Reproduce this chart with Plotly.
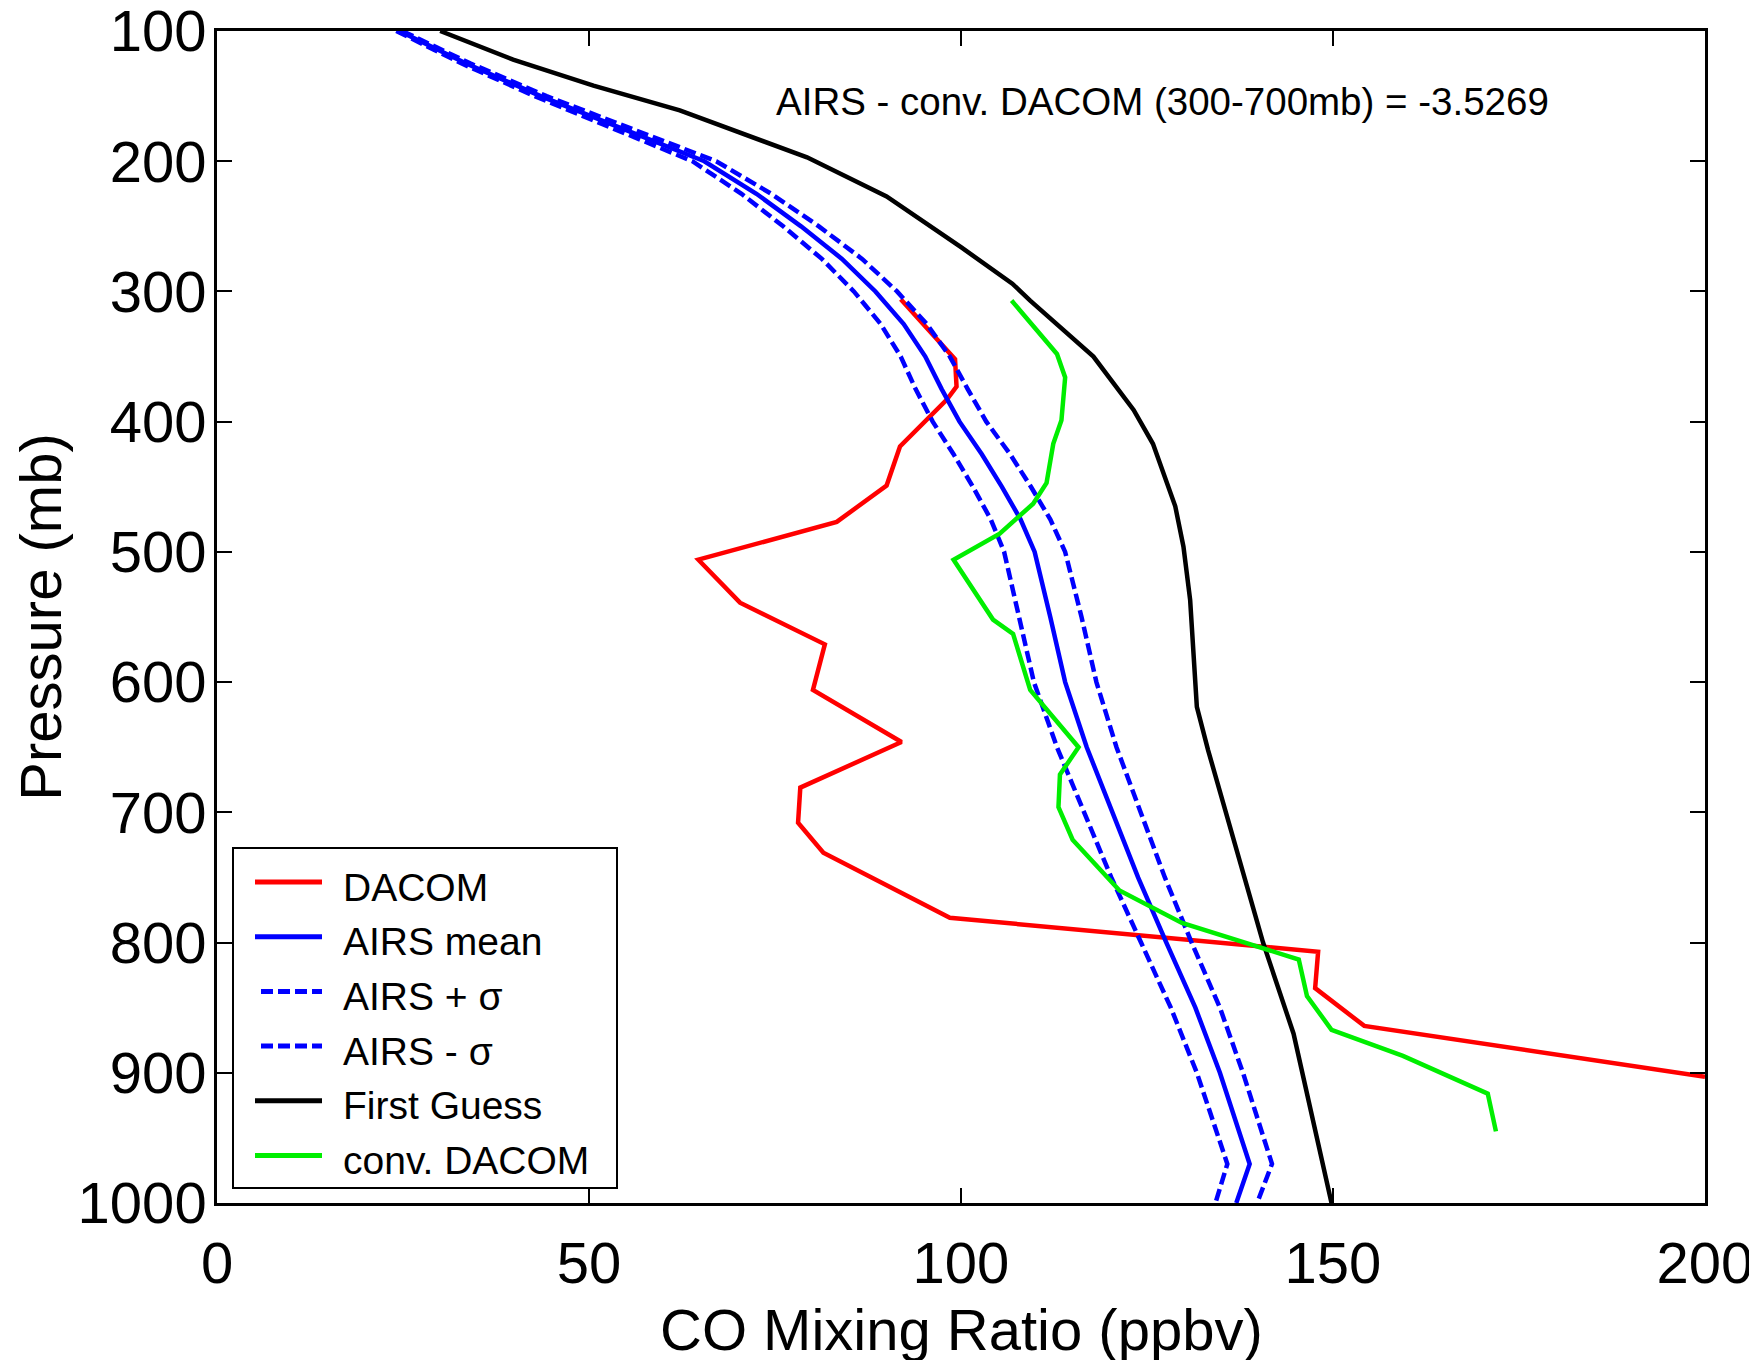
import plotly.graph_objects as go

# ---------------- data ----------------
airs_p = [100, 125, 150, 175, 200, 225, 250, 275, 300, 325, 350, 375, 400, 425, 450,
          475, 500, 550, 600, 650, 700, 750, 800, 850, 900, 950, 970, 1000]
airs_mean = [24.5, 33.5, 43.5, 54.5, 65.5, 72.5, 78.5, 84.0, 88.5, 92.3, 95.2, 97.4, 99.8,
             102.8, 105.5, 108.0, 109.9, 112.0, 114.0, 116.9, 120.3, 123.8, 127.6, 131.5,
             134.8, 137.6, 138.8, 137.0]
airs_plus = [24.9, 34.1, 44.3, 55.6, 67.1, 74.5, 80.9, 86.7, 91.4, 95.4, 98.5, 100.9, 103.4,
             106.6, 109.4, 112.0, 114.0, 116.2, 118.2, 120.9, 124.1, 127.4, 131.0, 134.8,
             137.9, 140.6, 141.8, 139.8]
airs_minus = [24.1, 32.9, 42.7, 53.4, 63.9, 70.5, 76.1, 81.3, 85.6, 89.2, 91.9, 93.9, 96.2,
              99.0, 101.6, 104.0, 105.8, 107.8, 109.8, 112.9, 116.5, 120.2, 124.2, 128.2,
              131.7, 134.6, 135.8, 134.2]

fg_p = [100, 122, 142, 161, 197, 227, 266, 294, 307, 350, 391, 417, 465, 496, 537, 575,
        619, 652, 690, 729, 800, 870, 1000]
fg_x = [30.0, 39.8, 50.6, 62.2, 79.3, 90.0, 100.0, 106.9, 109.3, 117.8, 123.2, 125.8, 128.8,
        129.9, 130.8, 131.2, 131.7, 133.2, 135.1, 136.9, 140.6, 144.7, 149.8]

dacom_p = [306, 352, 373, 383, 419, 449, 477, 506, 539, 571, 606, 646, 681, 708, 731, 781,
           807, 835, 864, 903]
dacom_x = [91.9, 99.2, 99.4, 98.1, 91.8, 90.0, 83.3, 64.7, 70.3, 81.7, 80.1, 92.0, 78.4, 78.1,
           81.5, 98.5, 148.0, 147.6, 154.2, 200.0]

conv_p = [307, 348, 366, 399, 417, 447, 463, 486, 506, 552, 563, 606, 650, 671, 696, 721,
          760, 785, 813, 841, 867, 887, 916, 945]
conv_x = [106.8, 112.9, 114.0, 113.5, 112.4, 111.5, 109.7, 105.2, 99.0, 104.3, 107.0, 109.3,
          115.8, 113.3, 113.1, 115.0, 121.3, 129.7, 145.4, 146.5, 149.8, 159.4, 170.8, 171.9]

x_ticks = [0, 50, 100, 150, 200]
y_ticks = [100, 200, 300, 400, 500, 600, 700, 800, 900, 1000]

legend_names = ["DACOM", "AIRS mean", "AIRS + \u03c3", "AIRS - \u03c3", "First Guess", "conv. DACOM"]
legend_colors = ["#ff0000", "#0000ff", "#0000ff", "#0000ff", "#000000", "#00ee00"]
legend_dash = ["solid", "solid", "12px,5px", "12px,5px", "solid", "solid"]
note_text = "AIRS - conv. DACOM (300-700mb) = -3.5269"
x_title = "CO Mixing Ratio (ppbv)"
y_title = "Pressure (mb)"

# ---------------- layout constants ----------------
# page body has an 8px margin, so the figure is offset by (8, 8) on the page
OFF = 8
W, H = 1757 - OFF, 1360 - OFF
# plot area in page pixels
L, R, T, B = 217, 1705, 31, 1203
FONT = "Liberation Sans, Arial, sans-serif"
LW = 4.5
DASH = "12px,5px"


def px_x(px):
    return (px - L) / (R - L)


def px_y(py):
    return (B - py) / (B - T)


fig = go.Figure()
series = [
    (dacom_x, dacom_p, "#ff0000", "solid"),
    (airs_mean, airs_p, "#0000ff", "solid"),
    (airs_plus, airs_p, "#0000ff", DASH),
    (airs_minus, airs_p, "#0000ff", DASH),
    (fg_x, fg_p, "#000000", "solid"),
    (conv_x, conv_p, "#00ee00", "solid"),
]
for (xs, ps, col, dash), name in zip(series, legend_names):
    fig.add_trace(go.Scatter(x=xs, y=ps, mode="lines", name=name, showlegend=False,
                             line=dict(color=col, width=LW, dash=dash)))

shapes = []
# legend box
shapes.append(dict(type="rect", xref="paper", yref="paper",
                   x0=px_x(233), x1=px_x(617), y0=px_y(1188), y1=px_y(848),
                   fillcolor="white", line=dict(color="black", width=2), layer="above"))
annotations = []
row0, step = 882, 54.7
for i, (nm, col, dsh) in enumerate(zip(legend_names, legend_colors, legend_dash)):
    yy = px_y(row0 + i * step)
    xs0 = 255 if dsh == "solid" else 261
    shapes.append(dict(type="line", xref="paper", yref="paper",
                       x0=px_x(xs0), x1=px_x(322), y0=yy, y1=yy,
                       line=dict(color=col, width=5, dash=dsh), layer="above"))
    annotations.append(dict(text=nm, xref="paper", yref="paper", x=px_x(341),
                            y=px_y(row0 + i * step + 5),
                            xanchor="left", yanchor="middle", showarrow=False,
                            font=dict(family=FONT, size=39, color="black")))

annotations.append(dict(text=note_text, xref="paper", yref="paper", x=px_x(774), y=px_y(101),
                        xanchor="left", yanchor="middle", showarrow=False,
                        font=dict(family=FONT, size=38.5, color="black")))
# x-axis title
annotations.append(dict(text=x_title, xref="paper", yref="paper", x=0.5, y=px_y(1329),
                        xanchor="center", yanchor="middle", showarrow=False,
                        font=dict(family=FONT, size=58, color="black")))

axis_common = dict(showgrid=False, zeroline=False, showline=True, linecolor="black",
                   linewidth=2.5, mirror="ticks", ticks="inside", ticklen=15, tickwidth=2,
                   tickcolor="black", automargin=False, ticklabeloverflow="allow",
                   tickfont=dict(family=FONT, size=58, color="black"))

fig.update_layout(
    width=W, height=H,
    margin=dict(l=L - OFF, r=W - (R - OFF), t=T - OFF, b=H - (B - OFF), pad=0),
    paper_bgcolor="white", plot_bgcolor="white",
    xaxis=dict(range=[0, 200], tickvals=x_ticks, ticktext=[str(v) for v in x_ticks],
               ticklabelstandoff=8, **axis_common),
    yaxis=dict(range=[1000, 100], tickvals=y_ticks, ticktext=[str(v) for v in y_ticks],
               ticklabelstandoff=-4,
               title=dict(text=y_title, standoff=8,
                          font=dict(family=FONT, size=58, color="black")),
               **axis_common),
    shapes=shapes,
    annotations=annotations,
)

fig.write_html("out.html")
